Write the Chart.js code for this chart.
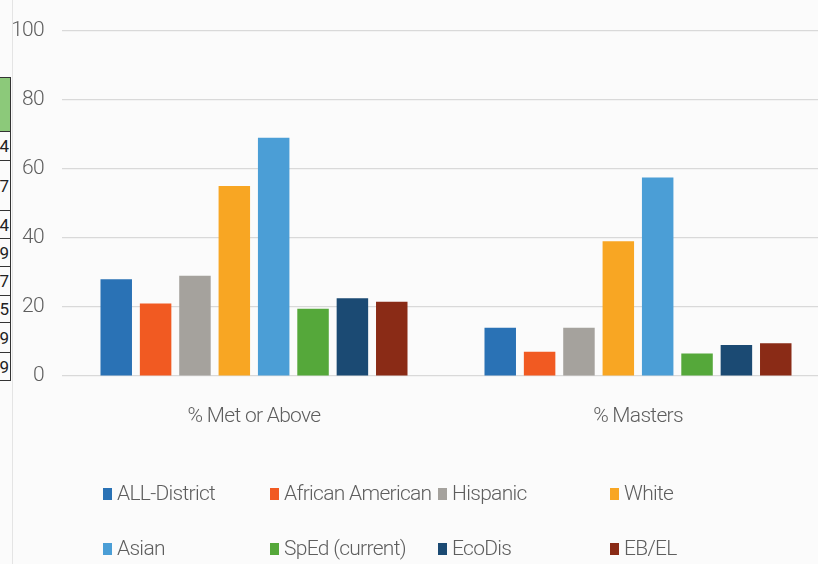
<!DOCTYPE html>
<html lang="en">
<head>
  <meta charset="UTF-8">
  <title>STAAR Results by Student Group</title>
  <script src="https://cdn.jsdelivr.net/npm/chart.js"></script>
  <style>
    html, body {
      margin: 0;
      padding: 0;
      width: 818px;
      height: 564px;
      overflow: hidden;
      background: #fbfbfb;
      font-family: Roboto, sans-serif;
    }
    #chartBox {
      position: absolute;
      left: 0;
      top: 0;
      width: 840px;
      height: 440px;
    }
    #legend {
      position: absolute;
      left: 0;
      top: 0;
      width: 818px;
      height: 564px;
      pointer-events: none;
    }
    .item {
      position: absolute;
      color: #5e5e5e;
      font-size: 21px;
      font-weight: 300;
      letter-spacing: -0.7px;
      line-height: 24px;
      white-space: nowrap;
    }
    .item span.box {
      display: inline-block;
      width: 9px;
      height: 12px;
      margin-right: 5px;
      vertical-align: 0px;
    }
    /* edge of the neighbouring table, cut off at the page border */
    #sideTable {
      position: absolute;
      left: -30px;
      top: 77px;
      width: 41px;
      border-collapse: collapse;
      font-size: 17px;
      color: #222;
    }
    #sideTable td {
      border: 1px solid #333;
      text-align: right;
      padding: 0 1px 0 0;
      vertical-align: middle;
    }
    #sideLine {
      position: absolute;
      left: 12px;
      top: 0;
      width: 1px;
      height: 564px;
      background: #e4e4e4;
    }
  </style>
</head>
<body>

  <div id="sideLine"></div>
  <table id="sideTable"></table>

  <div id="chartBox"><canvas id="chart"></canvas></div>
  <div id="legend"></div>

  <script>
    const categories = ['% Met or Above', '% Masters'];
    const groups = ['ALL-District', 'African American', 'Hispanic', 'White',
                    'Asian', 'SpEd (current)', 'EcoDis', 'EB/EL'];
    const metOrAbove = [28, 21, 29, 55, 69, 19.5, 22.5, 21.5];
    const masters = [14, 7, 14, 39, 57.5, 6.5, 9, 9.5];
    const colors = ['#2a72b5', '#f15a22', '#a5a29d', '#f8a623',
                    '#4b9ed6', '#55a83a', '#1b4a73', '#8a2b16'];
    const yTicks = [0, 20, 40, 60, 80, 100];

    // digits visible at the right edge of the clipped table
    const sideDigits = ['4', '7', '4', '9', '7', '5', '9', '9'];
    const sideRows = [29, 50, 28, 28, 29, 27, 30, 28];

    const table = document.getElementById('sideTable');
    let html = '<tr><td style="height:53px;background:#8cc97a"></td></tr>';
    sideDigits.forEach((d, i) => {
      html += `<tr><td style="height:${sideRows[i] - 1}px">${d}</td></tr>`;
    });
    table.innerHTML = html;

    const axisFont = { family: 'Roboto, sans-serif', size: 21, weight: '300' };

    // tighter tracking for the axis text
    const tightText = {
      id: 'tightText',
      beforeDraw(chart) { chart.ctx.letterSpacing = '-0.7px'; }
    };

    const datasets = groups.map((g, i) => ({
      label: g,
      data: [metOrAbove[i], masters[i]],
      backgroundColor: colors[i],
      borderWidth: 0,
      categoryPercentage: 0.82,
      barPercentage: 0.8
    }));

    const chart = new Chart(document.getElementById('chart'), {
      type: 'bar',
      data: { labels: categories, datasets: datasets },
      plugins: [tightText],
      options: {
        responsive: true,
        maintainAspectRatio: false,
        animation: false,
        layout: { padding: { top: 20, right: 10, left: 0, bottom: 0 } },
        plugins: {
          legend: { display: false },
          tooltip: { enabled: false }
        },
        scales: {
          x: {
            grid: { display: false },
            border: { display: false },
            ticks: { color: '#5e5e5e', padding: 20, font: axisFont },
            afterFit: s => { s.height = 64; }
          },
          y: {
            min: 0,
            max: 100,
            afterBuildTicks: s => { s.ticks = yTicks.map(v => ({ value: v })); },
            grid: { color: '#d9d9d9', lineWidth: 1.2, drawTicks: false },
            border: { display: false },
            ticks: { color: '#5e5e5e', padding: 18, font: axisFont },
            afterFit: s => { s.width = 62; }
          }
        }
      }
    });

    // two-row legend, four columns
    const legendCols = [103, 270, 438, 610];
    const legendRows = [481, 536];
    const legend = document.getElementById('legend');
    chart.data.datasets.forEach((ds, i) => {
      const el = document.createElement('div');
      el.className = 'item';
      el.style.left = legendCols[i % 4] + 'px';
      el.style.top = legendRows[Math.floor(i / 4)] + 'px';
      el.innerHTML = `<span class="box" style="background:${ds.backgroundColor}"></span>${ds.label}`;
      legend.appendChild(el);
    });
  </script>

</body>
</html>
